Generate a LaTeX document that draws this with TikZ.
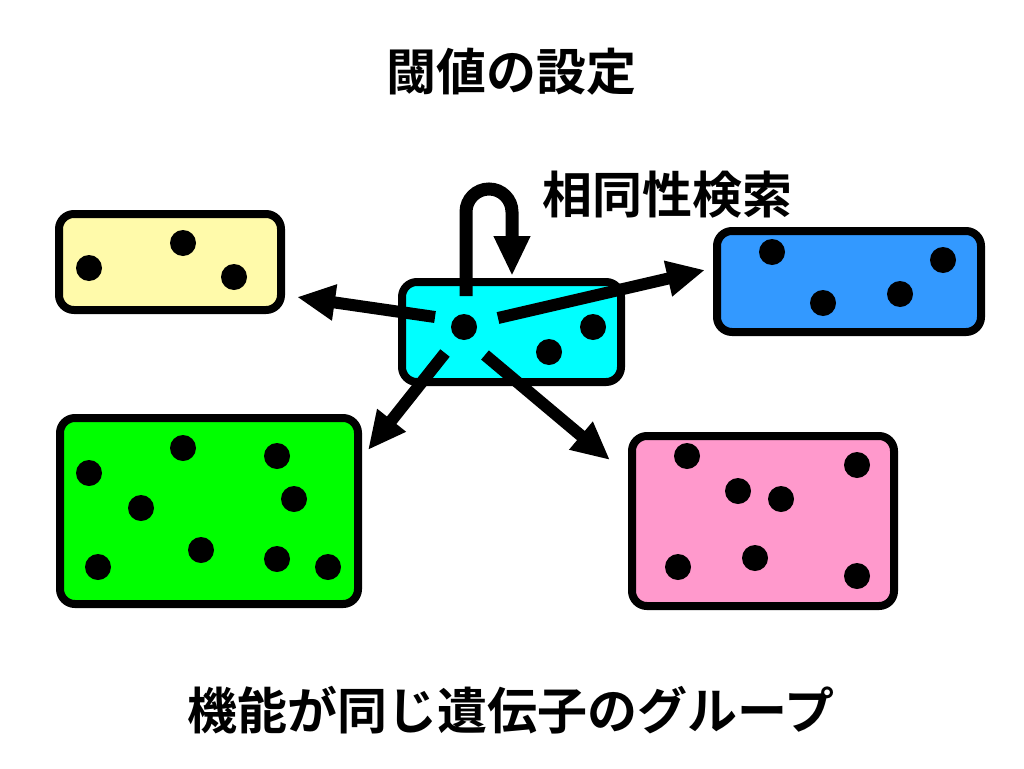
\documentclass[tikz,border=0pt]{standalone}
\usepackage{fontspec}
\newfontfamily\jpfont{Noto Sans CJK JP}[BoldFont={Noto Sans CJK JP Bold}]
\usetikzlibrary{arrows.meta}
\definecolor{cyellow}{RGB}{255,250,170}
\definecolor{ccyan}{RGB}{0,255,255}
\definecolor{cblue}{RGB}{51,153,255}
\definecolor{cgreen}{RGB}{0,255,0}
\definecolor{cpink}{RGB}{255,153,204}
\tikzset{
  grp/.style={draw=black, line width=8pt, rounded corners=15pt, inner sep=0pt},
  gene/.style={circle, fill=black, minimum size=26pt, inner sep=0pt},
  bigarrow/.style={line width=12pt, -{Triangle[length=38pt,width=34pt]}},
  label/.style={font=\jpfont\bfseries\fontsize{50pt}{60pt}\selectfont, inner sep=0pt}
}
\begin{document}
\begin{tikzpicture}[x=1pt,y=-1pt]
\useasboundingbox (0,0) rectangle (1024,768);
% groups
\node[grp, fill=cyellow, minimum width=222pt, minimum height=96pt] (yel) at (170,262) {};
\node[grp, fill=ccyan, minimum width=219pt, minimum height=100pt] (cya) at (511.5,332) {};
\node[grp, fill=cblue, minimum width=264pt, minimum height=101pt] (blu) at (849,281.5) {};
\node[grp, fill=cgreen, minimum width=298pt, minimum height=186pt] (gre) at (209,511) {};
\node[grp, fill=cpink, minimum width=262pt, minimum height=170pt] (pin) at (763,521) {};
% genes
\node[gene] (y1) at (89,268) {};
\node[gene] (y2) at (183,243) {};
\node[gene] (y3) at (234,277) {};
\node[gene] (c1) at (464,327) {};
\node[gene] (c2) at (549,352) {};
\node[gene] (c3) at (593,327) {};
\node[gene] (b1) at (772,252) {};
\node[gene] (b2) at (823,303) {};
\node[gene] (b3) at (900,294) {};
\node[gene] (b4) at (943,260) {};
\node[gene] (g1) at (89,473) {};
\node[gene] (g2) at (183,448) {};
\node[gene] (g3) at (277,456) {};
\node[gene] (g4) at (141,508) {};
\node[gene] (g5) at (294,499) {};
\node[gene] (g6) at (98,567) {};
\node[gene] (g7) at (201,550) {};
\node[gene] (g8) at (277,559) {};
\node[gene] (g9) at (328,567) {};
\node[gene] (p1) at (687,456) {};
\node[gene] (p2) at (857,465) {};
\node[gene] (p3) at (738,491) {};
\node[gene] (p4) at (781,499) {};
\node[gene] (p5) at (678,567) {};
\node[gene] (p6) at (755,558) {};
\node[gene] (p7) at (857,576) {};
% arrow ends
\coordinate (sL) at (435,317);
\coordinate (tL) at (297,297);
\coordinate (sR) at (498,318);
\coordinate (tR) at (705,270);
\coordinate (sDL) at (445,353);
\coordinate (tDL) at (368,450);
\coordinate (sDR) at (485,355);
\coordinate (tDR) at (610,460);
\coordinate (sLoop) at (466,296);
\coordinate (tLoop) at (512,276);
\draw[bigarrow] (sL) -- (tL);
\draw[bigarrow] (sR) -- (tR);
\draw[bigarrow] (sDL) -- (tDL);
\draw[bigarrow] (sDR) -- (tDR);
\draw[line width=13pt, -{Triangle[length=40pt,width=34pt]}] (sLoop) -- (466,212) arc[start angle=180, end angle=0, radius=23pt] -- (tLoop);
% texts
\node[label] (title) at (511,72) {閾値の設定};
\node[label] (search) at (667,195) {相同性検索};
\node[label] (caption) at (511,710) {機能が同じ遺伝子のグループ};
\end{tikzpicture}
\end{document}
